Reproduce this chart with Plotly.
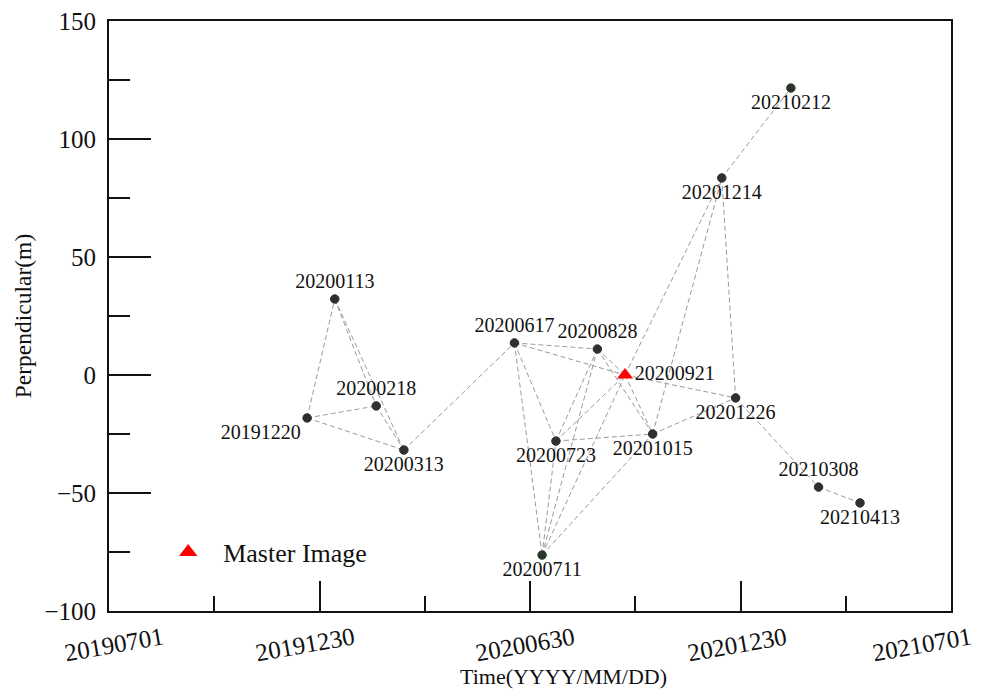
import plotly.graph_objects as go
import pandas as pd

# ---------------- data ----------------
dates = ["20191220", "20200113", "20200218", "20200313", "20200617", "20200711",
         "20200723", "20200828", "20200921", "20201015", "20201214", "20201226",
         "20210212", "20210308", "20210413"]
perpendicular = [-18.2, 32.2, -13.1, -31.8, 13.6, -76.3,
                 -28.0, 11.0, 0.0, -25.0, 83.5, -9.7,
                 121.6, -47.5, -54.2]
master_date = "20200921"
edges = [("20191220", "20200113"), ("20191220", "20200218"), ("20191220", "20200313"),
         ("20200113", "20200218"), ("20200113", "20200313"), ("20200218", "20200313"),
         ("20200313", "20200617"), ("20200617", "20200711"), ("20200617", "20200723"),
         ("20200617", "20200828"), ("20200617", "20200921"), ("20200711", "20200723"),
         ("20200711", "20200828"), ("20200711", "20200921"), ("20200711", "20201015"),
         ("20200723", "20200828"), ("20200723", "20200921"), ("20200723", "20201015"),
         ("20200828", "20200921"), ("20200828", "20201015"), ("20200921", "20201015"),
         ("20200921", "20201214"), ("20200921", "20201226"), ("20201015", "20201214"),
         ("20201015", "20201226"), ("20201214", "20201226"), ("20201214", "20210212"),
         ("20201226", "20210308"), ("20210308", "20210413")]
label_positions = ["bottom left", "top center", "top center", "bottom center", "top center",
                   "bottom center", "bottom center", "top center", "middle right", "bottom center",
                   "bottom center", "bottom center", "bottom center", "top center", "bottom center"]
x_tick_labels = ["20190701", "20191230", "20200630", "20201230", "20210701"]
x_tick_label_shift = [5, -14, -4, -3, -29]
y_range = [-100, 150]

FONT = "Liberation Serif, Times New Roman, serif"


def to_dt(s):
    return pd.Timestamp(s[:4] + "-" + s[4:6] + "-" + s[6:])


xs = [to_dt(d) for d in dates]
val = dict(zip(dates, perpendicular))

# evenly spaced ticks between the first and last tick label
start = to_dt(x_tick_labels[0])
end = to_dt(x_tick_labels[-1])
step = (end - start) / 8
all_ticks = [start + i * step for i in range(9)]
major_ticks = all_ticks[::2]
minor_ticks = all_ticks[1::2]

fig = go.Figure()

# network edges
ex, ey = [], []
for a, b in edges:
    ex += [to_dt(a), to_dt(b), None]
    ey += [val[a], val[b], None]
fig.add_trace(go.Scatter(x=ex, y=ey, mode="lines",
                         line=dict(color="#9a9a9a", width=1, dash="5px,3px"),
                         hoverinfo="skip", showlegend=False))

# slave images
slave_idx = [i for i, d in enumerate(dates) if d != master_date]
fig.add_trace(go.Scatter(
    x=[xs[i] for i in slave_idx], y=[perpendicular[i] for i in slave_idx],
    mode="markers+text",
    text=[dates[i] for i in slave_idx],
    textposition=[label_positions[i] for i in slave_idx],
    textfont=dict(family=FONT, size=20, color="#111111"),
    marker=dict(symbol="circle", size=8.5, color="#2f2f2f",
                line=dict(width=1, color=["#1f4f1f" if dates[i] in ("20200711", "20210212") else "#2f2f2f"
                                          for i in slave_idx])),
    showlegend=False, hoverinfo="skip"))

# master image
mi = dates.index(master_date)
fig.add_trace(go.Scatter(
    x=[xs[mi]], y=[perpendicular[mi]], mode="markers+text",
    text=[dates[mi]], textposition=[label_positions[mi]],
    textfont=dict(family=FONT, size=20, color="#111111"),
    marker=dict(symbol="triangle-up", size=14, color="#ff0000"),
    showlegend=False, hoverinfo="skip"))

# legend entry
fig.add_trace(go.Scatter(x=[None], y=[None], mode="markers", name="Master Image",
                         marker=dict(symbol="triangle-up", size=20, color="#ff0000")))

annotations = []
for lab, sh in zip(x_tick_labels, x_tick_label_shift):
    annotations.append(dict(x=to_dt(lab), xref="x", y=0, yref="paper", text=lab,
                            showarrow=False, textangle=-10, xanchor="center", yanchor="middle",
                            yshift=-33, xshift=sh,
                            font=dict(family=FONT, size=25, color="#111111")))
annotations.append(dict(x=0.540, xref="paper", y=0, yref="paper", text="Time(YYYY/MM/DD)",
                        showarrow=False, xanchor="center", yanchor="middle", yshift=-65,
                        font=dict(family=FONT, size=22, color="#111111")))

fig.update_layout(
    width=984, height=696,
    margin=dict(l=109, r=33, t=21, b=85),
    paper_bgcolor="white", plot_bgcolor="white",
    font=dict(family=FONT, color="#111111"),
    annotations=annotations,
    legend=dict(x=0.0525, y=0.100, xanchor="left", yanchor="middle",
                bgcolor="rgba(0,0,0,0)", font=dict(family=FONT, size=26, color="#111111"),
                itemwidth=60),
    xaxis=dict(type="date", range=[start, end], showgrid=False, zeroline=False,
               automargin=False,
               showline=True, linecolor="#111111", linewidth=2, mirror=True,
               tickmode="array", tickvals=major_ticks, showticklabels=False,
               ticks="inside", ticklen=30, tickwidth=2, tickcolor="#111111",
               minor=dict(tickmode="array", tickvals=minor_ticks, ticks="inside",
                          ticklen=15, tickwidth=2, tickcolor="#111111", showgrid=False)),
    yaxis=dict(range=y_range, showgrid=False, zeroline=False, automargin=False,
               showline=True, linecolor="#111111", linewidth=2, mirror=True,
               tickmode="linear", tick0=-100, dtick=50,
               ticks="inside", ticklen=42, tickwidth=2, tickcolor="#111111",
               tickfont=dict(family=FONT, size=25, color="#111111"),
               ticklabelstandoff=6,
               minor=dict(tickmode="linear", tick0=-100, dtick=25, ticks="inside",
                          ticklen=21, tickwidth=2, tickcolor="#111111", showgrid=False),
               title=dict(text="Perpendicular(m)", standoff=6,
                          font=dict(family=FONT, size=23.5, color="#111111"))),
)

fig.write_html("out.html", config={"displayModeBar": False},
               post_script="document.body.style.margin='0';")
